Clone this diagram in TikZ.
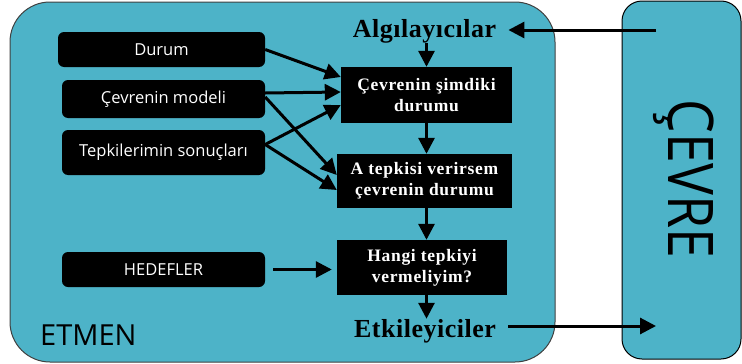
\documentclass[tikz,border=0pt]{standalone}
\usepackage{fontspec}
\setmainfont{Liberation Serif}
\newfontfamily\uisans{Open Sans}
\newfontfamily\boxserif[LetterSpace=4]{Liberation Serif}
\newfontfamily\labelserif[LetterSpace=2]{Liberation Serif}
\usetikzlibrary{arrows.meta}
\definecolor{agentblue}{HTML}{4DB3C8}
\tikzset{
  panel/.style={fill=agentblue, line width=1pt},
  inputbox/.style={fill=black, text=white, rounded corners=6pt, inner sep=0pt,
    font=\uisans\fontsize{16.5}{20}\selectfont},
  stagebox/.style={fill=black, text=white, inner sep=0pt, align=center,
    font=\boxserif\bfseries\fontsize{17.5}{21}\selectfont},
  portlabel/.style={inner sep=0pt, anchor=base, font=\labelserif\bfseries\fontsize{26}{30}\selectfont},
  arr/.style={line width=3pt, -{Triangle[length=16pt,width=16pt]}},
}
\begin{document}
\begin{tikzpicture}[x=1pt,y=-1pt]
\useasboundingbox (0,0) rectangle (742,364);

% agent and environment panels
\draw[panel, draw=black!75, rounded corners=40pt] (10,2) rectangle (555,362);
\draw[panel, draw=black, rounded corners=20pt] (622,1) rectangle (741,359);

% environment label, set vertically
\node[rotate=-90, inner sep=0pt, font=\uisans\fontsize{63}{70}\selectfont] (env) at (684,179) {\scalebox{0.85}[1]{ÇEVRE}};
\coordinate (envin) at (656,30);
\coordinate (envout) at (656,326);

% agent label
\node[inner sep=0pt, anchor=base west, font=\uisans\fontsize{29}{34}\selectfont] (agent) at (40,345) {ETMEN};

% inputs of the agent
\node[inputbox, minimum width=207pt, minimum height=35pt] (state) at (161.5,49.5) {Durum};
\node[inputbox, minimum width=203pt, minimum height=38pt] (model) at (163.5,99) {Çevrenin modeli};
\node[inputbox, minimum width=203pt, minimum height=45pt] (results) at (163.5,152.5) {Tepkilerimin sonuçları};
\node[inputbox, minimum width=203pt, minimum height=35pt] (goals) at (163.5,269.5) {HEDEFLER};

% sensors and actuators
\node[portlabel] (sensors) at (424.5,37) {Algılayıcılar};
\node[portlabel] (actuators) at (425,337) {Etkileyiciler};

% reasoning stages
\node[stagebox, minimum width=171pt, minimum height=56pt] (now) at (426.5,95) {Çevrenin şimdiki\\durumu};
\node[stagebox, minimum width=175pt, minimum height=54pt] (whatif) at (424.5,181) {A tepkisi verirsem\\çevrenin durumu};
\node[stagebox, minimum width=170pt, minimum height=55pt] (choice) at (422,267.5) {Hangi tepkiyi\\vermeliyim?};

% environment to sensors, actuators to environment
\draw[arr, shorten >=12pt] (envin) -- (envin -| sensors.east);
\draw[arr, shorten <=12pt] (actuators.east |- envout) -- (envout);

% main chain
\draw[arr] (sensors.south -| now.north) -- (now.north);
\draw[arr] (now.south) -- (now.south |- whatif.north);
\draw[arr] (now.south |- whatif.south) -- (now.south |- choice.north);
\draw[arr] (now.south |- choice.south) -- (now.south |- actuators.north);

% inputs into the stages
\draw[arr] (state.east) -- ([yshift=18pt]now.west);
\draw[arr] ([yshift=6pt]model.east) -- ([yshift=3pt]now.west);
\draw[arr] ([yshift=8pt]results.east) -- ([yshift=-10pt]now.west);
\draw[arr] ([yshift=2pt]model.east) -- ([yshift=6pt]whatif.west);
\draw[arr] ([yshift=8pt]results.east) -- ([yshift=-9pt]whatif.west);
\draw[arr, shorten >=5pt] ([xshift=8pt]goals.east) -- (goals.east -| choice.west);
\end{tikzpicture}
\end{document}
